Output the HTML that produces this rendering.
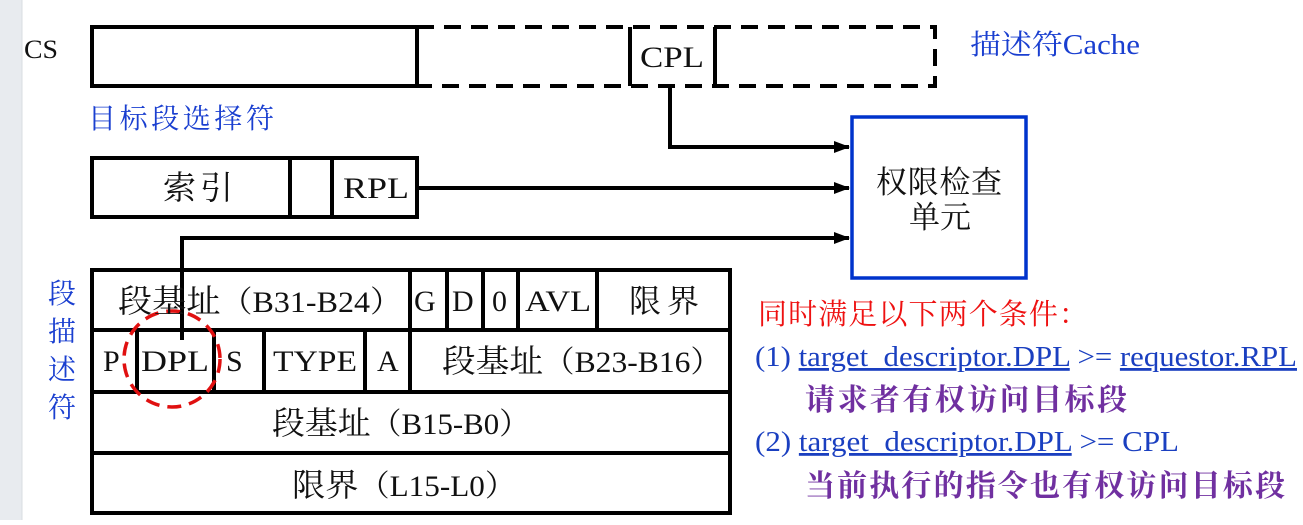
<!DOCTYPE html>
<html><head><meta charset="utf-8"><style>
body{margin:0;background:#fff}
</style></head><body>
<svg width="1303" height="520" xmlns="http://www.w3.org/2000/svg" font-family="'Liberation Serif','Noto Serif CJK SC',serif">
<defs><marker id="a" markerWidth="16" markerHeight="12" refX="15" refY="6" orient="auto" markerUnits="userSpaceOnUse"><path d="M0,0 L16,6 L0,12 Z" fill="#000"/></marker></defs>
<rect x="0" y="0" width="22" height="520" fill="#e8ebef"/>
<line x1="22" y1="0" x2="22" y2="520" stroke="#d8dce2" stroke-width="1"/>
<g stroke="#000" stroke-width="4" fill="none">
<rect x="92" y="27" width="325" height="59"/>
<path d="M417,27 H935 V86 H417" stroke-dasharray="17,10"/>
<line x1="630" y1="27" x2="630" y2="86"/><line x1="715" y1="27" x2="715" y2="86"/>
<path d="M670,86 V147 H849" marker-end="url(#a)"/>
<rect x="92" y="158" width="325" height="59"/>
<line x1="290" y1="158" x2="290" y2="217"/><line x1="332" y1="158" x2="332" y2="217"/>
<path d="M417,188 H849" marker-end="url(#a)"/>
<path d="M182,340 V238 H849" marker-end="url(#a)"/>
<rect x="92" y="270" width="638" height="243"/>
<line x1="92" y1="330" x2="730" y2="330"/><line x1="92" y1="392" x2="730" y2="392"/><line x1="92" y1="453" x2="730" y2="453"/>
<line x1="410" y1="270" x2="410" y2="330"/><line x1="447" y1="270" x2="447" y2="330"/><line x1="483" y1="270" x2="483" y2="330"/><line x1="518" y1="270" x2="518" y2="330"/><line x1="597" y1="270" x2="597" y2="330"/>
<line x1="137" y1="330" x2="137" y2="392"/><line x1="214" y1="330" x2="214" y2="392"/><line x1="264" y1="330" x2="264" y2="392"/><line x1="365" y1="330" x2="365" y2="392"/><line x1="410" y1="330" x2="410" y2="392"/>
</g>
<rect x="852" y="117" width="174" height="161" fill="none" stroke="#0033cc" stroke-width="3.5"/>
<ellipse cx="172" cy="359" rx="48" ry="48" fill="none" stroke="#e01010" stroke-width="3.5" stroke-dasharray="14,8"/>
<g font-size="30" fill="#111">
<text x="24" y="58" font-size="26" textLength="34" lengthAdjust="spacingAndGlyphs">CS</text>
<text x="640" y="67" textLength="64" lengthAdjust="spacingAndGlyphs">CPL</text>
<text x="163" y="199" font-size="33" textLength="70">索引</text>
<text x="343" y="198" textLength="66" lengthAdjust="spacingAndGlyphs">RPL</text>
<text x="876" y="193" font-size="31" textLength="126">权限检查</text>
<text x="909" y="228" font-size="31" textLength="62">单元</text>
<text x="118" y="312" textLength="284" lengthAdjust="spacingAndGlyphs"><tspan font-size="32">段基址</tspan>（B31-B24）</text>
<text x="414" y="311">G</text><text x="452" y="311">D</text><text x="492" y="311">0</text><text x="525" y="311" textLength="66" lengthAdjust="spacingAndGlyphs">AVL</text><text x="629" y="312" font-size="32" textLength="70">限界</text>
<text x="103" y="371">P</text><text x="141" y="371" textLength="68" lengthAdjust="spacingAndGlyphs">DPL</text><text x="226" y="371">S</text><text x="273" y="371" textLength="84" lengthAdjust="spacingAndGlyphs">TYPE</text><text x="377" y="371">A</text>
<text x="442" y="372" textLength="280" lengthAdjust="spacingAndGlyphs"><tspan font-size="32">段基址</tspan>（B23-B16）</text>
<text x="272" y="434" textLength="258" lengthAdjust="spacingAndGlyphs"><tspan font-size="32">段基址</tspan>（B15-B0）</text>
<text x="292" y="496" textLength="224" lengthAdjust="spacingAndGlyphs"><tspan font-size="32">限界</tspan>（L15-L0）</text>
</g>
<g font-size="28" fill="#1a3fd0">
<text x="88" y="128" textLength="186">目标段选择符</text>
<text x="970" y="54" textLength="170" lengthAdjust="spacingAndGlyphs">描述符Cache</text>
<text x="48" y="303">段</text><text x="48" y="341">描</text><text x="48" y="379">述</text><text x="48" y="417">符</text>
</g>
<text x="758" y="324" font-size="29" fill="#ee1111" textLength="330">同时满足以下两个条件：</text>
<g font-size="28" fill="#1a3fc0">
<text x="755" y="366" textLength="542" lengthAdjust="spacingAndGlyphs">(1) <tspan text-decoration="underline">target_descriptor.DPL</tspan> &gt;= <tspan text-decoration="underline">requestor.RPL</tspan></text>
<text x="755" y="451" textLength="424" lengthAdjust="spacingAndGlyphs">(2) <tspan text-decoration="underline">target_descriptor.DPL</tspan> &gt;= CPL</text>
</g>
<g font-size="30" fill="#7030a0" font-weight="bold">
<text x="805" y="410" textLength="322">请求者有权访问目标段</text>
<text x="805" y="496" textLength="480">当前执行的指令也有权访问目标段</text>
</g>
</svg>
</body></html>
